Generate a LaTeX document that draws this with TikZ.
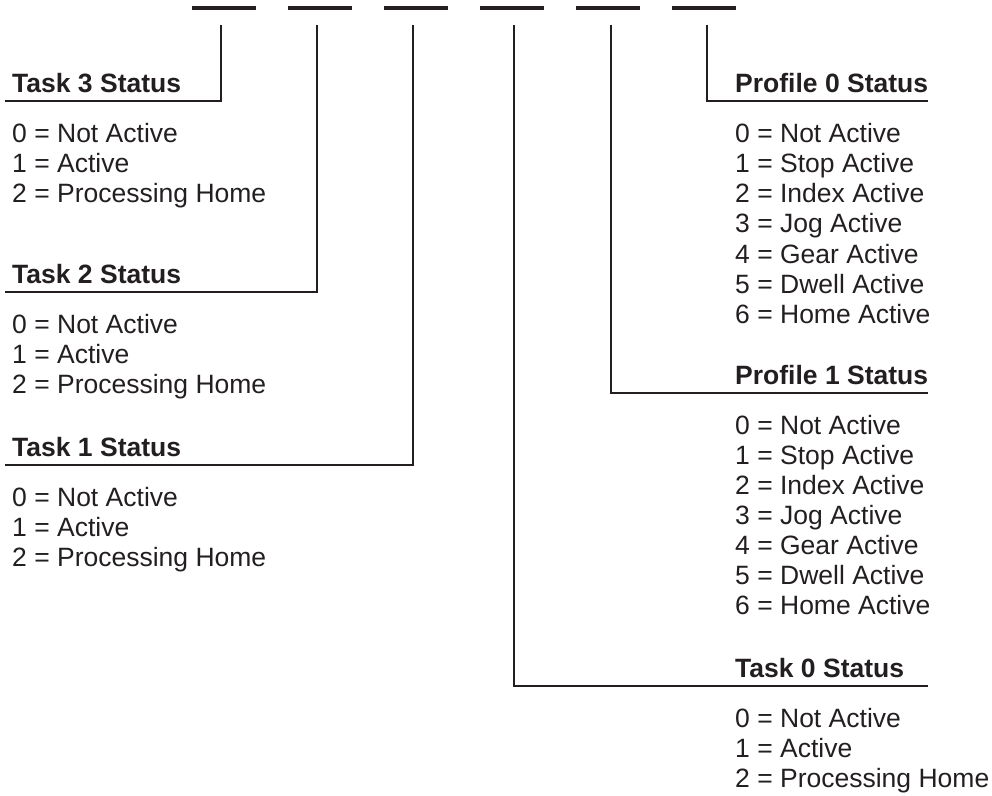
\documentclass[tikz,border=0pt]{standalone}
\usepackage{fontspec}
\setmainfont{Liberation Sans}
\definecolor{ink}{RGB}{35,31,32}

\begin{document}
\begin{tikzpicture}[x=1pt, y=-1pt, ink,
    wire/.style={draw=ink, line width=1.9pt},
    bitbar/.style={draw=ink, line width=3.4pt},
    title/.style={anchor=base west, inner sep=0pt, text=ink, font=\bfseries\fontsize{26.5}{30}\selectfont},
    entry/.style={anchor=base west, inner sep=0pt, text=ink, font=\fontsize{26.5}{30}\selectfont}]
    \useasboundingbox (0,0) rectangle (992,795);
    % Bit bars and the taps under them:
    \foreach \i in {0,...,5} {
        \coordinate (b\i l) at (192+96*\i, 8);
        \coordinate (b\i r) at (256+96*\i, 8);
        \draw[bitbar] (b\i l) -- (b\i r);
    }
    \coordinate (tap3) at (221, 25);
    \coordinate (tap2) at (317, 25);
    \coordinate (tap1) at (413, 25);
    \coordinate (tap0) at (514, 25);
    \coordinate (tapP1) at (611, 25);
    \coordinate (tapP0) at (707, 25);
    % Ends of the underlines:
    \coordinate (end3) at (5, 101);
    \coordinate (end2) at (5, 292);
    \coordinate (end1) at (5, 465);
    \coordinate (endP0) at (928, 101);
    \coordinate (endP1) at (928, 393);
    \coordinate (end0) at (928, 686);
    % Titles:
    \node[title] (task3) at (12, 92) {Task 3 Status};
    \node[title] (task2) at (12, 283) {Task 2 Status};
    \node[title] (task1) at (12, 456) {Task 1 Status};
    \node[title] (prof0) at (735, 92) {Profile 0 Status};
    \node[title] (prof1) at (735, 384) {Profile 1 Status};
    \node[title] (task0) at (735, 677) {Task 0 Status};
    % Leaders:
    \draw[wire] (tap3) |- (end3);
    \draw[wire] (tap2) |- (end2);
    \draw[wire] (tap1) |- (end1);
    \draw[wire] (tapP0) |- (endP0);
    \draw[wire] (tapP1) |- (endP1);
    \draw[wire] (tap0) |- (end0);
    % Value lists:
    \foreach \t [count=\k from 0] in {Not Active, Active, Processing Home} {
        \node[entry] (task3v\k) at (12, 142+30.3*\k) {\k{} = \t};
        \node[entry] (task2v\k) at (12, 333+30.3*\k) {\k{} = \t};
        \node[entry] (task1v\k) at (12, 506+30.3*\k) {\k{} = \t};
        \node[entry] (task0v\k) at (735, 727+30.3*\k) {\k{} = \t};
    }
    \foreach \t [count=\k from 0] in {Not Active, Stop Active, Index Active, Jog Active, Gear Active, Dwell Active, Home Active} {
        \node[entry] (prof0v\k) at (735, 142+30.3*\k) {\k{} = \t};
        \node[entry] (prof1v\k) at (735, 434+30.1*\k) {\k{} = \t};
    }
\end{tikzpicture}
\end{document}
